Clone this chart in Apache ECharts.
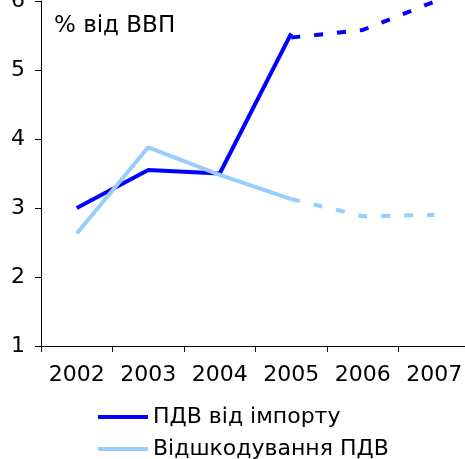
<!DOCTYPE html>
<html><head><meta charset="utf-8">
<script src="https://cdn.jsdelivr.net/npm/echarts@6/dist/echarts.min.js"></script>
<style>html,body{margin:0;padding:0;background:#fff}#c{width:465px;height:459px}</style>
</head><body><div id="c"></div>
<script>
var categories = ['2002','2003','2004','2005','2006','2007'];
var importVat = [3.0, 3.55, 3.5, 5.53, null, null];
var importVatForecast = [null, null, null, 5.47, 5.58, 5.99];
var refundVat = [2.63, 3.88, 3.48, 3.13, null, null];
var refundVatForecast = [null, null, null, 3.13, 2.88, 2.9];
var seriesNames = ['ПДВ від імпорту', 'Відшкодування ПДВ'];
var yTicks = [1, 6, 1];
var FONT = 'DejaVu Sans';
var chart = echarts.init(document.getElementById('c'));
function line(name, data, color, dashed) {
  return {
    name: name, type: 'line', data: data, showSymbol: false, symbol: 'none',
    connectNulls: false,
    lineStyle: { color: color, width: 4, type: dashed ? [9, 14] : 'solid', cap: 'butt' },
    itemStyle: { color: color }
  };
}
chart.setOption({
  animation: false,
  backgroundColor: '#fff',
  title: {
    text: 'ПДВ від імпорту', left: 112, top: -25,
    textStyle: { fontFamily: FONT, fontSize: 21, fontWeight: 'bold', color: '#000' }
  },
  grid: { left: 41, right: -5, top: 1, bottom: 113, containLabel: false, outerBoundsMode: 'none' },
  legend: {
    data: seriesNames, orient: 'vertical', left: 98, top: 406, height: 80,
    icon: 'rect', itemWidth: 50, itemHeight: 4, itemGap: 10,
    textStyle: { fontFamily: FONT, fontSize: 22, color: '#000', padding: [0, 0, 0, 0] },
    padding: 0
  },
  graphic: [{
    type: 'text', left: 54, top: 15,
    style: { text: '% від ВВП', font: '23px "DejaVu Sans"', fill: '#000' }
  }],
  xAxis: {
    type: 'category', data: categories, boundaryGap: true,
    axisLine: { lineStyle: { color: '#000', width: 1 } },
    axisTick: { show: true, length: 6, alignWithLabel: false, lineStyle: { color: '#000' } },
    axisLabel: { fontFamily: FONT, fontSize: 22, color: '#000', margin: 18, interval: 0 },
    splitLine: { show: false }
  },
  yAxis: {
    type: 'value', min: yTicks[0], max: yTicks[1], interval: yTicks[2],
    axisLine: { show: true, lineStyle: { color: '#000', width: 1 } },
    axisTick: { show: true, length: 6, lineStyle: { color: '#000' } },
    axisLabel: { fontFamily: FONT, fontSize: 22, color: '#000', margin: 16 },
    splitLine: { show: false }
  },
  series: [
    line(seriesNames[0], importVat, '#0000FF', false),
    line(seriesNames[0] + ' (прогноз)', importVatForecast, '#0000FF', true),
    line(seriesNames[1], refundVat, '#99CCFF', false),
    line(seriesNames[1] + ' (прогноз)', refundVatForecast, '#99CCFF', true)
  ]
});
</script></body></html>
